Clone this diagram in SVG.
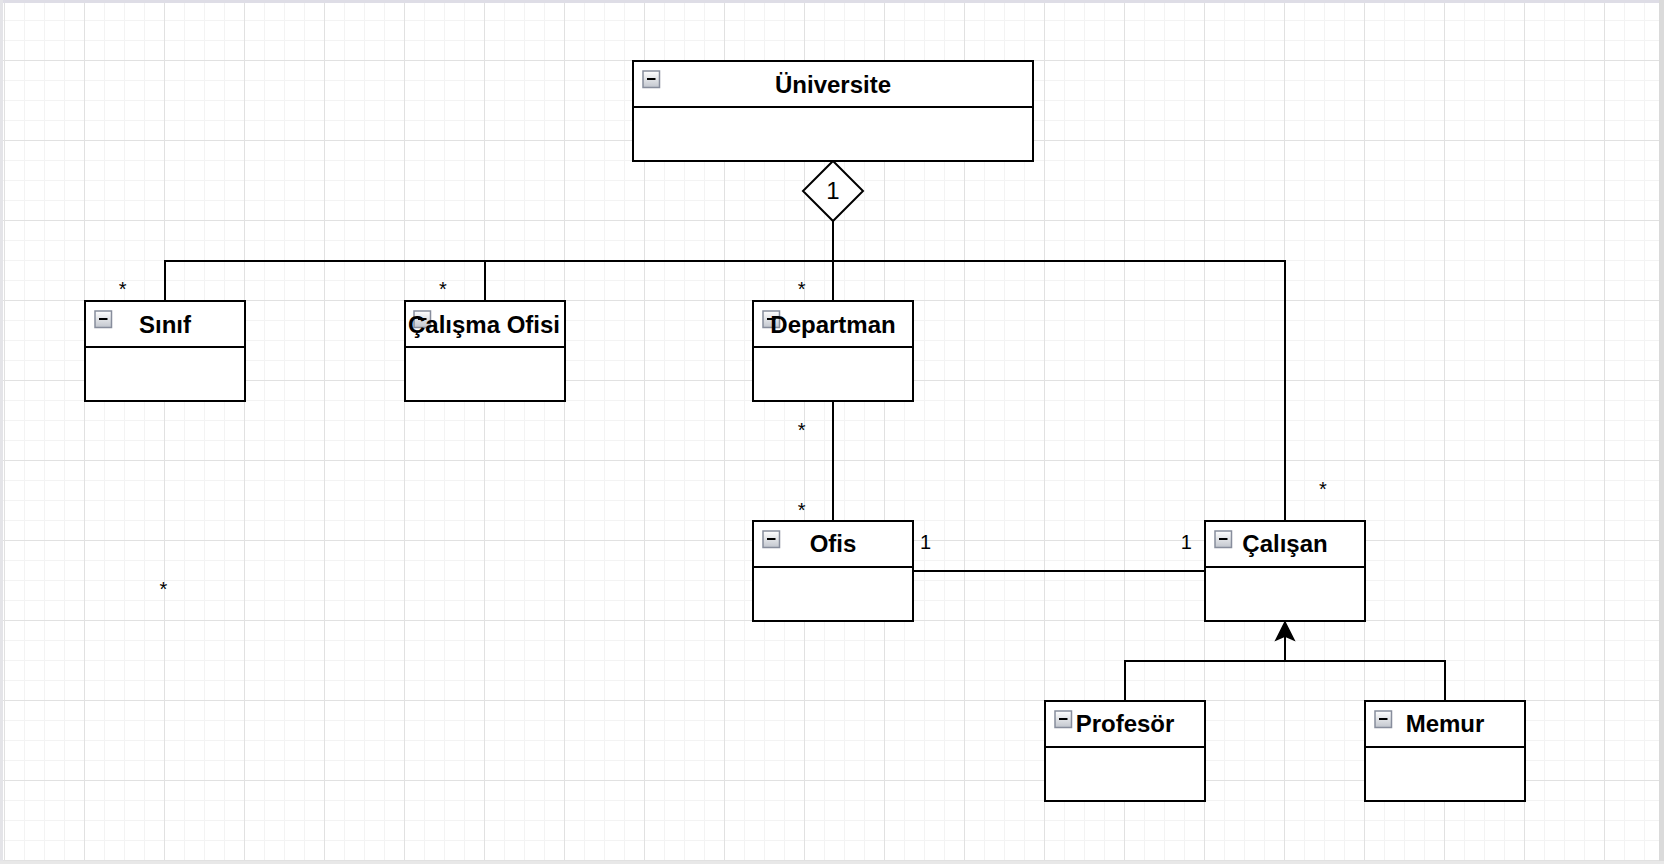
<svg xmlns="http://www.w3.org/2000/svg" width="1664" height="864" viewBox="0 0 1664 864">
  <style>
    .box { fill: #ffffff; stroke: #000000; stroke-width: 2; }
    .div { stroke: #000000; stroke-width: 2; fill: none; }
    .name { font-family: "Liberation Sans", Arial, Helvetica, sans-serif; font-size: 24px; font-weight: bold; fill: #000000; text-anchor: middle; }
    .lbl { font-family: "Liberation Sans", Arial, Helvetica, sans-serif; font-size: 20px; fill: #000000; text-anchor: middle; }
    .dlbl { font-family: "Liberation Sans", Arial, Helvetica, sans-serif; font-size: 24px; fill: #000000; text-anchor: middle; }
    .edge { stroke: #000000; stroke-width: 2; fill: none; }
    .icon { fill: url(#iconGrad); stroke: #878d9c; stroke-width: 1.5; }
    .minus { stroke: #000000; stroke-width: 2; }
  </style>
  <defs>
    <linearGradient id="iconGrad" x1="0" y1="0" x2="0" y2="1">
      <stop offset="0" stop-color="#ffffff"/>
      <stop offset="1" stop-color="#c2c6ce"/>
    </linearGradient>
    <pattern id="grid" x="4" y="60" width="80" height="80" patternUnits="userSpaceOnUse">
      <path d="M20.5 0V80M40.5 0V80M60.5 0V80M0 20.5H80M0 40.5H80M0 60.5H80" stroke="#f3f3f3" stroke-width="1" fill="none"/>
      <path d="M0.5 0V80M0 0.5H80" stroke="#e1e1e1" stroke-width="1" fill="none"/>
    </pattern>
    <g id="ic">
      <rect class="icon" x="0" y="0" width="16.5" height="16.5"/>
      <line class="minus" x1="4" y1="8" x2="12.5" y2="8"/>
    </g>
  </defs>

  <rect x="0" y="0" width="1664" height="864" fill="#ffffff"/>
  <rect x="0" y="0" width="1664" height="864" fill="url(#grid)"/>
  <rect x="0" y="0" width="1664" height="3" fill="#dedde6"/>
  <rect x="0" y="0" width="3" height="864" fill="#e4e4e8"/>
  <rect x="1659" y="0" width="5" height="864" fill="#dadada"/>
  <rect x="0" y="861" width="1664" height="3" fill="#e8e8e8"/>

  <g id="connectors">
    <polyline class="edge" points="833,221 833,301"/>
    <polyline class="edge" points="165,301 165,261 1285,261 1285,521"/>
    <polyline class="edge" points="485,261 485,301"/>
    <polygon points="833,161 863,191 833,221 803,191" fill="#ffffff" stroke="#000000" stroke-width="2"/>
    <text class="dlbl" x="833" y="199">1</text>
    <polyline class="edge" points="833,401 833,521"/>
    <polyline class="edge" points="913,571 1205,571"/>
    <polyline class="edge" points="1125,701 1125,661 1445,661 1445,701"/>
    <polyline class="edge" points="1285,661 1285,634"/>
    <path d="M1285,622 L1294,640 L1285,636 L1276,640 Z" fill="#000000" stroke="#000000" stroke-width="1.5"/>
    <text class="lbl" x="122.7" y="296">*</text>
    <text class="lbl" x="443" y="296">*</text>
    <text class="lbl" x="801.7" y="296">*</text>
    <text class="lbl" x="801.7" y="436.5">*</text>
    <text class="lbl" x="801.7" y="516.5">*</text>
    <text class="lbl" x="1323" y="496">*</text>
    <text class="lbl" x="163.3" y="596">*</text>
    <text class="lbl" x="925.5" y="549">1</text>
    <text class="lbl" x="1186.3" y="549">1</text>
  </g>

  <g id="universite">
    <rect class="box" x="633" y="61" width="400" height="100"/>
    <line class="div" x1="633" y1="107" x2="1033" y2="107"/>
    <use href="#ic" x="643" y="71"/>
    <text class="name" x="833" y="92.5">Üniversite</text>
  </g>

  <g id="sinif">
    <rect class="box" x="85" y="301" width="160" height="100"/>
    <line class="div" x1="85" y1="347" x2="245" y2="347"/>
    <use href="#ic" x="95" y="311"/>
    <text class="name" x="165" y="332.5">Sınıf</text>
  </g>

  <g id="calisma-ofisi">
    <rect class="box" x="405" y="301" width="160" height="100"/>
    <line class="div" x1="405" y1="347" x2="565" y2="347"/>
    <use href="#ic" x="414" y="311"/>
    <text class="name" x="484" y="332.5">Çalışma Ofisi</text>
  </g>

  <g id="departman">
    <rect class="box" x="753" y="301" width="160" height="100"/>
    <line class="div" x1="753" y1="347" x2="913" y2="347"/>
    <use href="#ic" x="763" y="311"/>
    <text class="name" x="833" y="332.5">Departman</text>
  </g>

  <g id="ofis">
    <rect class="box" x="753" y="521" width="160" height="100"/>
    <line class="div" x1="753" y1="567" x2="913" y2="567"/>
    <use href="#ic" x="763" y="531"/>
    <text class="name" x="833" y="552">Ofis</text>
  </g>

  <g id="calisan">
    <rect class="box" x="1205" y="521" width="160" height="100"/>
    <line class="div" x1="1205" y1="567" x2="1365" y2="567"/>
    <use href="#ic" x="1215" y="531"/>
    <text class="name" x="1285" y="552">Çalışan</text>
  </g>

  <g id="profesor">
    <rect class="box" x="1045" y="701" width="160" height="100"/>
    <line class="div" x1="1045" y1="747" x2="1205" y2="747"/>
    <use href="#ic" x="1055" y="711"/>
    <text class="name" x="1125" y="732">Profesör</text>
  </g>

  <g id="memur">
    <rect class="box" x="1365" y="701" width="160" height="100"/>
    <line class="div" x1="1365" y1="747" x2="1525" y2="747"/>
    <use href="#ic" x="1375" y="711"/>
    <text class="name" x="1445" y="732">Memur</text>
  </g>
</svg>
